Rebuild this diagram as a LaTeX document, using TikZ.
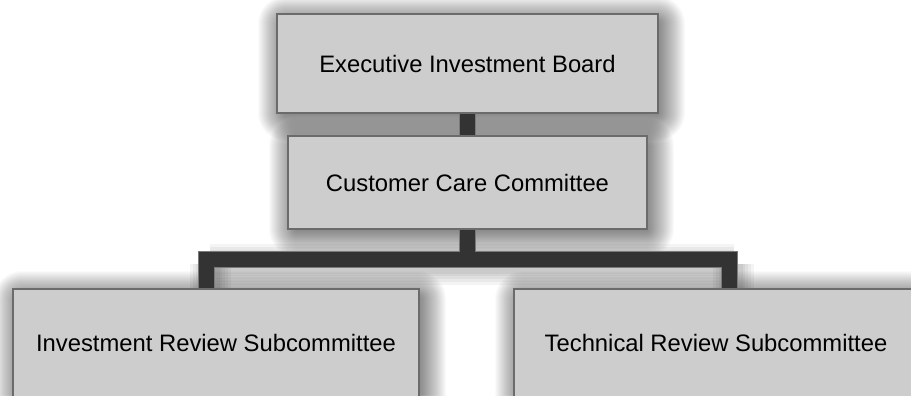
\documentclass[tikz,border=0pt]{standalone}
\usepackage{fontspec}
\setmainfont{Liberation Sans}

\definecolor{boxfill}{HTML}{CDCDCD}
\definecolor{boxline}{HTML}{6B6B6B}
\definecolor{linkdark}{HTML}{333333}
\definecolor{linkedge}{HTML}{7A7A7A}

\pgfdeclarelayer{background}
\pgfsetlayers{background,main}

\tikzset{
  orgbox/.style={rectangle, draw=boxline, line width=2bp, fill=boxfill,
    text=black, font=\fontsize{23.8bp}{28bp}\selectfont, inner sep=0pt},
  linkedge/.style={draw=linkedge, line width=17bp, line join=miter, line cap=butt},
  linkcore/.style={draw=linkdark, line width=15bp, line join=miter, line cap=butt},
  linkshade/.style={draw=black, line join=round, opacity=0.045},
  shadelayer/.style={fill=black, opacity=0.018}
}

% soft drop shadow behind a named box, built from stacked translucent layers
\newcommand{\softshadow}[1]{%
  \foreach \d in {-6,-5,...,22} {
    \pgfmathsetmacro{\rc}{max(\d+6,1)}
    \fill[shadelayer, rounded corners=\rc bp]
      ([shift={(4-\d,5-\d)}]#1.north west) rectangle ([shift={(4+\d,5+\d)}]#1.south east);
  }%
}

\begin{document}
\begin{tikzpicture}[x=1bp, y=-1bp]
  \useasboundingbox (0,0) rectangle (911,395);
  \clip (0,0) rectangle (911,395);

  % boxes
  \node[orgbox, minimum width=381bp, minimum height=99bp] (board) at (467.5,63.5) {Executive Investment Board};
  \node[orgbox, minimum width=359bp, minimum height=93bp] (care) at (467.5,182.5) {Customer Care Committee};
  \node[orgbox, minimum width=406bp, minimum height=108bp] (invest) at (216,343) {Investment Review Subcommittee};
  \node[orgbox, minimum width=404bp, minimum height=108bp] (tech) at (716,343) {Technical Review Subcommittee};

  % joints of the lower connector
  \coordinate (bar) at (467.5,259.5);
  \coordinate (jl) at (206,259.5);
  \coordinate (jr) at (729.5,259.5);

  \begin{pgfonlayer}{background}
    \fill[white] (0,0) rectangle (911,395);
    \softshadow{board}
    \softshadow{care}
    \softshadow{invest}
    \softshadow{tech}
    % soft shadow under the lower connector
    \foreach \w in {41,35,29,23,19} {
      \draw[linkshade, line width=\w bp] (210,264) -- (733.5,264);
      \draw[linkshade, line width=\w bp] (210,264) -- (210,300);
      \draw[linkshade, line width=\w bp] (733.5,264) -- (733.5,300);
    }
  \end{pgfonlayer}

  % connectors: grey edge first, dark core on top
  \foreach \s in {linkedge, linkcore} {
    \draw[\s] (board.south) -- (care.north);
    \draw[\s] (care.south) -- (bar);
    \draw[\s] (jl |- invest.north) |- (bar) -| (jr |- tech.north);
  }
\end{tikzpicture}
\end{document}
